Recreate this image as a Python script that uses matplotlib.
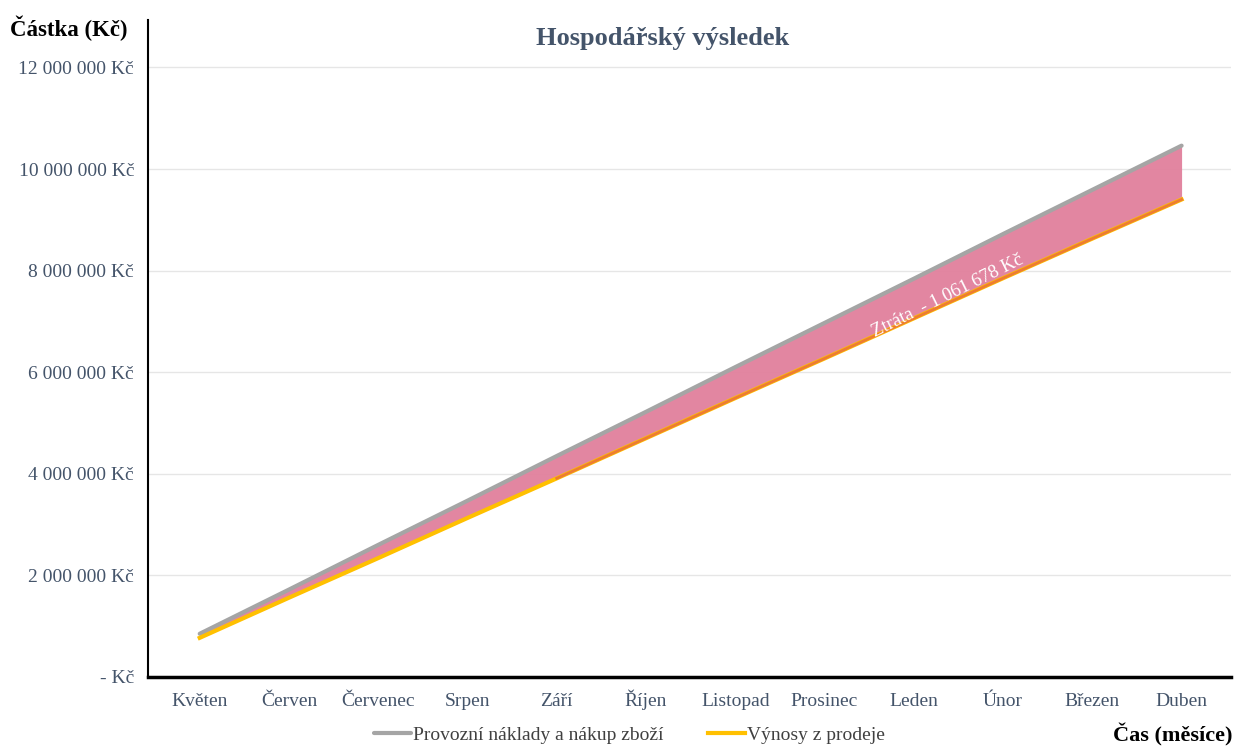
import numpy as np
import matplotlib.pyplot as plt

# data (values in Kč)
months = ["Květen", "Červen", "Červenec", "Srpen", "Září", "Říjen",
          "Listopad", "Prosinec", "Leden", "Únor", "Březen", "Duben"]
naklady = [850000, 1720000, 2600000, 3470000, 4350000, 5220000,
           6100000, 6970000, 7840000, 8720000, 9590000, 10460000]
vynosy = [770000, 1560000, 2340000, 3130000, 3910000, 4700000,
          5490000, 6270000, 7060000, 7850000, 8630000, 9400000]
yticks = [0, 2000000, 4000000, 6000000, 8000000, 10000000, 12000000]
ztrata_text = "Ztráta  - 1 061 678 Kč"

plt.rcParams['font.family'] = ['Liberation Serif', 'DejaVu Serif']

fig = plt.figure(figsize=(12.36, 7.48), dpi=100)
ax = fig.add_axes([0.1197, 0.095, 0.876, 0.878])

x = np.arange(len(months))

ax.fill_between(x, vynosy, naklady, color="#E1809C", alpha=0.95, linewidth=0, zorder=2)
ax.plot(x, naklady, color="#A5A5A5", lw=3, solid_capstyle="round", zorder=3,
        label="Provozní náklady a nákup zboží")
ax.plot(x, vynosy, color="#FFC000", lw=3, zorder=3, label="Výnosy z prodeje")
# orange edge of the loss band on the second half
ax.plot(x[4:], vynosy[4:], color="#ED7D31", lw=2, zorder=4)

ax.set_xlim(-0.58, 11.55)
ax.set_ylim(0, 12930000)
ax.set_xticks(x)
ax.set_xticklabels(months, va="baseline")
ax.set_yticks(yticks)
ax.set_yticklabels(["- Kč"] + ["{:,} Kč".format(v).replace(",", " ") for v in yticks[1:]])

ax.grid(axis="y", color="#E6E6E6", lw=1)
ax.set_axisbelow(True)
for s in ["top", "right"]:
    ax.spines[s].set_visible(False)
ax.spines["left"].set_linewidth(1.5)
ax.spines["bottom"].set_linewidth(2.5)
ax.tick_params(axis="both", length=0, labelsize=14, labelcolor="#44546A", pad=10)
ax.tick_params(axis="x", pad=21)

fig.text(0.536, 0.948, "Hospodářský výsledek", fontsize=19, fontweight="bold",
         color="#44546A", ha="center", va="center")

# loss annotation along the band
ang = np.degrees(np.arctan2(487, 982))
ax.text(8.38, 7.5e6, ztrata_text, color="white", fontsize=13.5, rotation=ang,
        rotation_mode="anchor", ha="center", va="center", zorder=5)

fig.text(0.008, 0.962, "Částka (Kč)", fontsize=16.5, fontweight="bold", ha="left", va="center")
fig.text(0.997, 0.018, "Čas (měsíce)", fontsize=16, fontweight="bold", ha="right", va="center")

fig.legend(loc="lower center", bbox_to_anchor=(0.509, -0.018), ncol=2, frameon=False,
           fontsize=14, handlelength=1.9, handletextpad=0.1, columnspacing=2.3,
           labelcolor="#404040")

fig.savefig("out.png", dpi=100)
